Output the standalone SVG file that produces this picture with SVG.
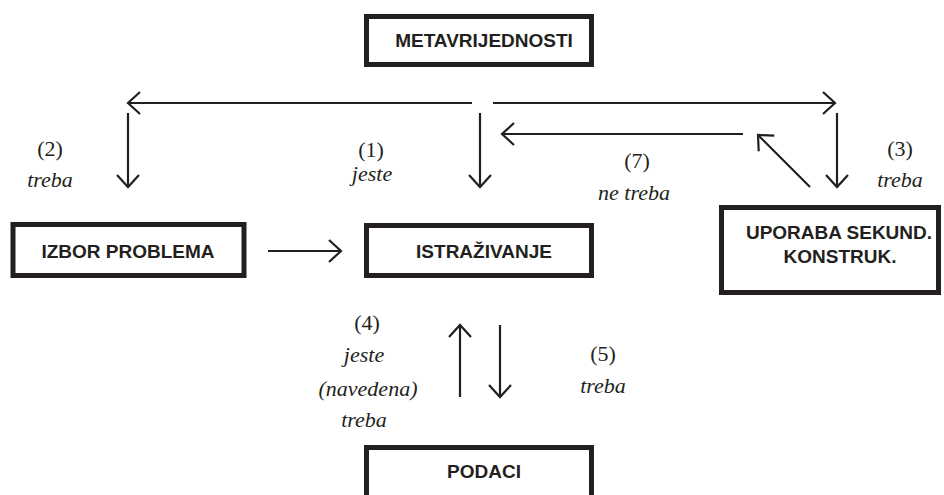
<svg xmlns="http://www.w3.org/2000/svg" width="944" height="495" viewBox="0 0 944 495">
<defs>
<marker id="ah" markerUnits="userSpaceOnUse" markerWidth="30" markerHeight="30" refX="0" refY="0" viewBox="-15 -15 30 30" orient="auto" overflow="visible">
<path d="M-12,-11 L0,0 L-12,11" fill="none" stroke="#231f20" stroke-width="2.2" stroke-linejoin="miter"/>
</marker>
<style>
.box{fill:#fff;stroke:#231f20;stroke-width:5}
.bt{font-family:"Liberation Sans",Arial,sans-serif;font-weight:bold;font-size:19px;fill:#231f20;text-anchor:middle}
.lt{font-family:"Liberation Serif","Times New Roman",serif;font-size:22px;fill:#231f20;text-anchor:middle}
.it{font-style:italic}
.c{fill:none;stroke:#231f20;stroke-width:2.2;marker-end:url(#ah)}
</style>
</defs>
<rect width="944" height="495" fill="#fff"/>
<g id="connectors">
<line class="c" x1="472" y1="103" x2="128" y2="103"/>
<line class="c" x1="493" y1="103" x2="835" y2="103"/>
<line class="c" x1="128" y1="113" x2="128" y2="187"/>
<line class="c" x1="480" y1="113" x2="480" y2="187"/>
<line class="c" x1="837" y1="113" x2="837" y2="187"/>
<line class="c" x1="743" y1="134" x2="502" y2="134"/>
<line class="c" x1="810" y1="187" x2="758" y2="135"/>
<line class="c" x1="268" y1="251" x2="341" y2="251"/>
<line class="c" x1="460" y1="397" x2="460" y2="325"/>
<line class="c" x1="500" y1="325" x2="500" y2="397"/>
</g>
<g id="labels">
<text class="lt" x="50" y="156">(2)</text>
<text class="lt it" x="50" y="187">treba</text>
<text class="lt" x="371" y="157">(1)</text>
<text class="lt it" x="372" y="181">jeste</text>
<text class="lt" x="637" y="168">(7)</text>
<text class="lt it" x="634" y="200">ne treba</text>
<text class="lt" x="900" y="156">(3)</text>
<text class="lt it" x="900" y="187">treba</text>
<text class="lt" x="367" y="330">(4)</text>
<text class="lt it" x="364" y="362">jeste</text>
<text class="lt it" x="368" y="396">(navedena)</text>
<text class="lt it" x="364" y="427">treba</text>
<text class="lt" x="603" y="361">(5)</text>
<text class="lt it" x="603" y="393">treba</text>
</g>
<g id="metavrijednosti">
<rect class="box" x="366.5" y="16.5" width="225" height="48"/>
<text class="bt" x="484" y="47">METAVRIJEDNOSTI</text>
</g>
<g id="izbor-problema">
<rect class="box" x="13" y="224.5" width="231" height="51"/>
<text class="bt" x="128" y="258">IZBOR PROBLEMA</text>
</g>
<g id="istrazivanje">
<rect class="box" x="366.5" y="225.5" width="225" height="50"/>
<text class="bt" x="484" y="258">ISTRAŽIVANJE</text>
</g>
<g id="uporaba">
<rect class="box" x="721.5" y="207.5" width="217" height="85"/>
<text class="bt" x="839" y="239">UPORABA SEKUND.</text>
<text class="bt" x="840" y="263">KONSTRUK.</text>
</g>
<g id="podaci">
<rect class="box" x="366.5" y="447.5" width="225" height="60"/>
<text class="bt" x="484" y="478">PODACI</text>
</g>
</svg>
